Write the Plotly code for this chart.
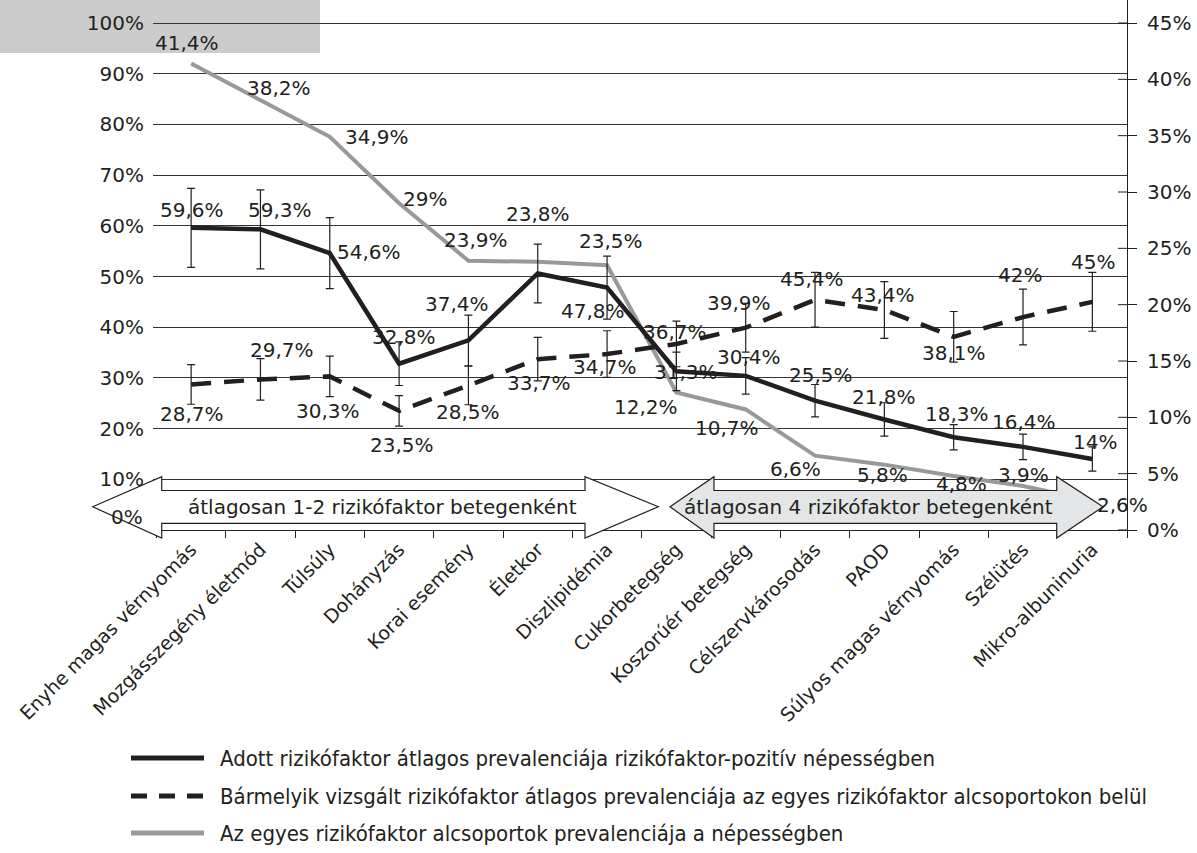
import plotly.graph_objects as go

# --- data -------------------------------------------------------------------
categories = [
    "Enyhe magas vérnyomás", "Mozgásszegény életmód", "Túlsúly", "Dohányzás",
    "Korai esemény", "Életkor", "Diszlipidémia", "Cukorbetegség",
    "Koszorúér betegség", "Célszervkárosodás", "PAOD",
    "Súlyos magas vérnyomás", "Szélütés", "Mikro-albuninuria",
]

# prevalence of the given risk factor in the risk-factor-positive population (left axis)
adott = [59.6, 59.3, 54.6, 32.8, 37.4, 50.6, 47.8, 31.3, 30.4, 25.5, 21.8, 18.3, 16.4, 14.0]
adott_err = [7.8, 7.8, 7.0, 4.3, 5.0, 5.8, 6.2, 3.8, 3.6, 3.2, 3.3, 2.5, 2.5, 2.4]
adott_labeled = [True, True, True, True, True, False, True, True, True, True, True, True, True, True]

# prevalence of any examined risk factor within the subgroups (left axis)
barmely = [28.7, 29.7, 30.3, 23.5, 28.5, 33.7, 34.7, 36.7, 39.9, 45.4, 43.4, 38.1, 42.0, 45.0]
barmely_err = [3.9, 4.1, 4.0, 3.0, 3.8, 4.3, 4.6, 4.5, 4.8, 5.4, 5.6, 5.0, 5.5, 5.8]

# prevalence of the subgroups in the population (right axis)
alcsoport = [41.4, 38.2, 34.9, 29.0, 23.9, 23.8, 23.5, 12.2, 10.7, 6.6, 5.8, 4.8, 3.9, 2.6]

left_ticks = [10, 20, 30, 40, 50, 60, 70, 80, 90, 100]
right_ticks = [0, 5, 10, 15, 20, 25, 30, 35, 40, 45]

legend_names = [
    "Adott rizikófaktor átlagos prevalenciája rizikófaktor-pozitív népességben",
    "Bármelyik vizsgált rizikófaktor átlagos prevalenciája az egyes rizikófaktor alcsoportokon belül",
    "Az egyes rizikófaktor alcsoportok prevalenciája a népességben",
]
band_texts = ["átlagosan 1-2 rizikófaktor betegenként", "átlagosan 4 rizikófaktor betegenként"]

# --- label placement (screen pixel offsets from each point) ------------------
adott_off = [(1, -18), (20, -19), (39, -1), (5, -27), (-11, -36), (0, 0), (-14, 23),
             (10, 1), (3, -19), (6, -26), (0, -22), (3, -23), (1, -25), (3, -17)]
barmely_off = [(1, 30), (22, -29), (-2, 35), (3, 34), (0, 26), (1, 24), (-2, 13),
               (-1, -12), (-7, -25), (-3, -21), (-1, -15), (0, 16), (-3, -42), (1, -40)]
alcsoport_off = [(-4, -21), (19, -12), (47, 0), (26, -4), (8, -21), (0, -48), (4, -24),
                 (-30, 14), (-19, 19), (-20, 13), (-2, 10), (8, 8), (0, -11), (30, 4)]

# --- geometry / style --------------------------------------------------------
W, H = 1197, 853
PL, PR, PT, PB = 153, 1127, 0, 530          # plot area in pixels
LEFT_MAX = 100 * (PB - PT) / (PB - 23)       # 100 % sits 23 px below the top
RIGHT_MAX = 45 * (PB - PT) / (PB - 23)
INK = "#231f20"
FONT = "DejaVu Sans"


def px(x):
    return (x - PL) / (PR - PL)


def py(y):
    return (PB - y) / (PB - PT)


def pct(v):
    return f"{v:g}".replace(".", ",") + "%"


fig = go.Figure()

# gray series on the base (right-hand) axis so the black lines sit above it
fig.add_trace(go.Scatter(
    x=categories, y=alcsoport, mode="lines", yaxis="y",
    line=dict(color="#999999", width=4), name=legend_names[2], showlegend=False,
))
fig.add_trace(go.Scatter(
    x=categories, y=barmely, mode="lines", yaxis="y2",
    line=dict(color=INK, width=4.5, dash="20px,13px"),
    error_y=dict(type="data", array=barmely_err, color=INK, thickness=1.2, width=4),
    name=legend_names[1], showlegend=False,
))
fig.add_trace(go.Scatter(
    x=categories, y=adott, mode="lines", yaxis="y2",
    line=dict(color=INK, width=4.5),
    error_y=dict(type="data", array=adott_err, color=INK, thickness=1.2, width=4),
    name=legend_names[0], showlegend=False,
))

annotations = []


def add_labels(values, offsets, yref, shown=None):
    for i, (c, v, (dx, dy)) in enumerate(zip(categories, values, offsets)):
        if shown is not None and not shown[i]:
            continue
        annotations.append(dict(
            x=c, y=v, xref="x", yref=yref, text=pct(v), showarrow=False,
            xanchor="center", yanchor="middle",
            xshift=dx, yshift=-dy, font=dict(family=FONT, size=20, color=INK),
        ))


add_labels(alcsoport, alcsoport_off, "y")
add_labels(barmely, barmely_off, "y2")
add_labels(adott, adott_off, "y2", adott_labeled)

# the left axis zero label sits a little above the baseline
annotations.append(dict(x=0, y=0, xref="paper", yref="y2", text="0%", showarrow=False,
                        xanchor="right", yanchor="middle", xshift=-8, yshift=13,
                        font=dict(family=FONT, size=20, color=INK)))

shapes = []

# shaded corner box behind the top-left labels
shapes.append(dict(type="rect", xref="paper", yref="paper", layer="below",
                   x0=px(0), x1=px(320), y0=py(0), y1=py(53),
                   fillcolor="#cccccc", line=dict(width=0)))


def double_arrow(x_tip_l, x_head_l, x_head_r, x_tip_r, fill):
    yc, sh_t, sh_b, hd_t, hd_b = 506.8, 490.5, 523.3, 476.7, 538.0
    pts = [(x_tip_l, yc), (x_head_l, hd_t), (x_head_l, sh_t), (x_head_r, sh_t),
           (x_head_r, hd_t), (x_tip_r, yc), (x_head_r, hd_b), (x_head_r, sh_b),
           (x_head_l, sh_b), (x_head_l, hd_b)]
    path = "M" + " L".join(f"{px(a):.5f},{py(b):.5f}" for a, b in pts) + " Z"
    return dict(type="path", xref="paper", yref="paper", path=path, layer="above",
                fillcolor=fill, line=dict(color=INK, width=1.2))


shapes.append(double_arrow(92.7, 161.7, 585, 658.3, "white"))
shapes.append(double_arrow(670, 714, 1056.7, 1103, "#e4e5e6"))

for txt, cx in zip(band_texts, [382, 868]):
    annotations.append(dict(x=px(cx), y=py(506.5), xref="paper", yref="paper", text=txt,
                            xanchor="center", yanchor="middle", showarrow=False,
                            font=dict(family=FONT, size=20, color=INK)))

# inner half of the cross ticks on the right axis
for t in right_ticks:
    shapes.append(dict(type="line", xref="paper", yref="y", x0=1 - 9 / (PR - PL), x1=1,
                       y0=t, y1=t, line=dict(color=INK, width=1)))

# legend
legend_y = [758, 796, 833]
legend_styles = [dict(color=INK, width=5), dict(color=INK, width=5, dash="16px,12px"),
                 dict(color="#999999", width=5)]
for name, ly, st in zip(legend_names, legend_y, legend_styles):
    shapes.append(dict(type="line", xref="paper", yref="paper", x0=px(131), x1=px(204),
                       y0=py(ly), y1=py(ly), line=st))
    annotations.append(dict(x=px(218), y=py(ly), xref="paper", yref="paper", text=name,
                            xanchor="left", yanchor="middle", showarrow=False,
                            font=dict(family="DejaVu Sans Condensed, DejaVu Sans", size=22,
                                      color=INK)))

fig.update_layout(
    width=W, height=H,
    margin=dict(l=PL, r=W - PR, t=PT, b=H - PB),
    paper_bgcolor="white", plot_bgcolor="white",
    font=dict(family=FONT, size=20, color=INK),
    showlegend=False,
    xaxis=dict(
        type="category", range=[-0.55, 13.5], showgrid=False,
        showline=True, linecolor=INK, linewidth=1,
        ticks="outside", tickson="boundaries", ticklen=7, tickcolor=INK,
        tickangle=-45, tickfont=dict(family=FONT, size=19, color=INK),
    ),
    yaxis=dict(
        side="right", range=[0, RIGHT_MAX], tickvals=right_ticks,
        ticktext=[f"{t}%" for t in right_ticks], showgrid=False, zeroline=False,
        showline=True, linecolor=INK, linewidth=1,
        ticks="outside", ticklen=9, tickcolor=INK, ticklabelstandoff=6,
        tickfont=dict(family=FONT, size=20, color=INK),
    ),
    yaxis2=dict(
        overlaying="y", side="left", range=[0, LEFT_MAX], tickvals=left_ticks,
        ticktext=[f"{t}%" for t in left_ticks], showgrid=True, gridcolor="#333333",
        gridwidth=1, zeroline=False, showline=False, ticks="", ticklabelstandoff=8,
        tickfont=dict(family=FONT, size=20, color=INK),
    ),
    shapes=shapes,
    annotations=annotations,
)

fig.write_html("out.html")
